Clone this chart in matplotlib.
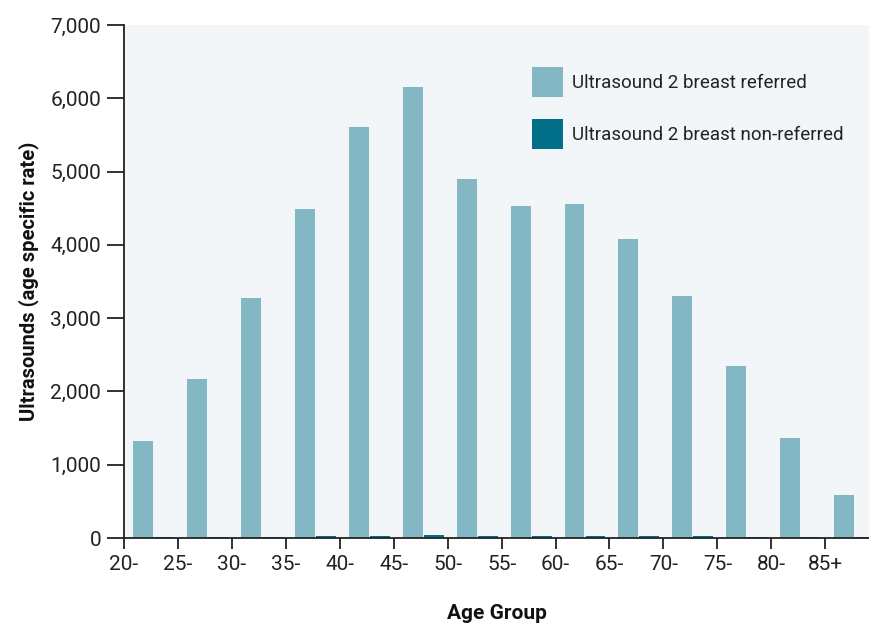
import matplotlib
matplotlib.use("Agg")
import matplotlib.pyplot as plt
from matplotlib.ticker import FuncFormatter
from matplotlib.patches import Patch

age_groups = ["20-", "25-", "30-", "35-", "40-", "45-", "50-", "55-", "60-", "65-", "70-", "75-", "80-", "85+"]
referred = [1320, 2170, 3275, 4490, 5607, 6153, 4898, 4530, 4557, 4080, 3300, 2347, 1364, 587]
non_referred = [20, 20, 20, 28, 32, 42, 34, 32, 32, 32, 24, 20, 20, 20]

c_ref = "#82b7c3"
c_non = "#006f87"
bg = "#f2f6f9"

plt.rcParams['font.family'] = ['Roboto', 'DejaVu Sans']

fig = plt.figure(figsize=(8.7, 6.28), dpi=100)
ax = fig.add_axes([124/870, 1 - 538/628, 1 - 124/870, (538 - 25)/628])
ax.set_facecolor(bg)

x = list(range(len(age_groups)))
ax.bar([i + 0.167 for i in x], referred, width=0.37, align='edge', color=c_ref, zorder=2)
ax.bar([i + 0.556 for i in x], non_referred, width=0.37, align='edge', color=c_non, zorder=2)

ax.set_xlim(0, 13.83)
ax.set_ylim(0, 7000)
ax.set_xticks(x)
ax.set_xticklabels(age_groups)
ax.set_yticks(range(0, 7001, 1000))
ax.yaxis.set_major_formatter(FuncFormatter(lambda v, p: f"{int(v):,}"))

for s in ["top", "right"]:
    ax.spines[s].set_visible(False)
for s in ["left", "bottom"]:
    ax.spines[s].set_color("#222222")
    ax.spines[s].set_linewidth(1.3)

ax.tick_params(axis='y', length=12.5, width=1.3, color="#222222", labelsize=15, labelcolor="#222222", pad=4)
ax.tick_params(axis='x', length=8, width=1.3, color="#222222", labelsize=15, labelcolor="#222222", pad=4)

ax.set_ylabel("Ultrasounds (age specific rate)", fontsize=14.5, fontweight='bold', color="#111111", labelpad=8)
ax.set_xlabel("Age Group", fontsize=15, fontweight='bold', color="#111111", labelpad=22)

handles = [Patch(facecolor=c_ref, edgecolor='none'), Patch(facecolor=c_non, edgecolor='none')]
leg = ax.legend(handles, ["Ultrasound 2 breast referred", "Ultrasound 2 breast non-referred"],
                loc='upper left', bbox_to_anchor=(0.537, 0.932), frameon=False, fontsize=13.5,
                handlelength=1.63, handleheight=2.05, handletextpad=0.5, labelspacing=1.18,
                borderaxespad=0)
for t in leg.get_texts():
    t.set_color("#222222")

fig.savefig("out.png", dpi=100, facecolor="white")
